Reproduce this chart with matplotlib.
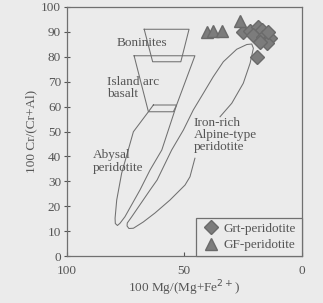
"""Cr# vs Mg# spinel discrimination diagram."""

import matplotlib.pyplot as plt

plt.rcParams["font.family"] = ["Liberation Serif", "DejaVu Serif"]

# Grt-peridotite samples (Mg#, Cr#)
grt_mg = [24.8, 21.9, 18.4, 17.0, 20.5, 16.3, 13.4, 14.8, 17.7, 14.2, 19.1]
grt_cr = [89.9, 90.3, 91.9, 90.6, 88.6, 87.9, 87.3, 85.3, 85.9, 89.8, 79.9]

# GF-peridotite samples
gf_mg = [40.2, 37.9, 34.0, 26.0]
gf_cr = [90.0, 90.2, 90.1, 94.3]

# field outlines
boninite_mg = [67.0, 47.9, 51.4, 63.4, 67.0]
boninite_cr = [90.9, 90.9, 77.9, 77.9, 90.9]

arc_abyssal_mg = [71.3, 45.4, 53.2, 56.7, 59.5, 64.5, 68.8, 75.2, 77.3, 78.4,
                  79.3, 79.4, 78.7, 76.6, 73.8, 71.6, 65.2, 71.3]
arc_abyssal_cr = [80.3, 80.3, 60.6, 50.6, 42.6, 34.6, 26.6, 15.9, 13.3, 12.4,
                  13.2, 15.3, 22.6, 33.3, 42.6, 49.9, 57.9, 80.3]

box_mg = [63.1, 53.2, 54.6, 65.2, 63.1]
box_cr = [60.6, 60.6, 57.9, 57.9, 60.6]

iron_mg = [45.4, 47.5, 49.6, 56.0, 62.4, 67.4, 71.6, 73.5, 74.3, 74.2, 72.3,
           64.5, 61.5, 55.3, 50.3, 46.1, 41.8, 37.6, 33.3, 27.6, 23.3, 21.2,
           20.5, 21.9, 24.8, 29.7, 34.7]
iron_cr = [39.3, 31.9, 28.6, 22.6, 17.4, 13.8, 11.3, 11.2, 12.2, 13.4, 15.9,
           26.6, 30.6, 42.6, 50.6, 58.6, 65.3, 71.9, 77.9, 82.9, 84.8, 85.0,
           83.3, 77.3, 69.3, 61.3, 55.9]

BG = "#ebebeb"
LINE = "#707070"
TEXT = "#555555"

fig = plt.figure(figsize=(3.23, 3.03), dpi=100, facecolor=BG)
ax = fig.add_axes([0.2065, 0.1535, 0.727, 0.825], facecolor=BG)

for xs, ys in [(boninite_mg, boninite_cr), (arc_abyssal_mg, arc_abyssal_cr),
               (box_mg, box_cr), (iron_mg, iron_cr)]:
    ax.plot(xs, ys, color=LINE, linewidth=0.75)

ax.plot(grt_mg, grt_cr, "D", color="#7c7c7c", markeredgecolor="#6a6a6a",
        markersize=7, linestyle="none", label="Grt-peridotite")
ax.plot(gf_mg, gf_cr, "^", color="#7c7c7c", markeredgecolor="#6a6a6a",
        markersize=8, linestyle="none", label="GF-peridotite")

fs = 9.5
ax.text(78.7, 85.6, "Boninites", fontsize=fs, color=TEXT, va="center")
ax.text(83.0, 67.3, "Island arc\nbasalt", fontsize=fs, color=TEXT,
        va="center", linespacing=1.05)
ax.text(88.7, 38.0, "Abysal\nperidotite", fontsize=fs, color=TEXT,
        va="center", linespacing=1.05)
ax.text(45.8, 48.6, "Iron-rich\nAlpine-type\nperidotite", fontsize=fs,
        color=TEXT, va="center", linespacing=1.05)

ax.set_xlim(100, 0)
ax.set_ylim(0, 100)
ax.set_xticks([100, 50, 0])
ax.set_yticks(range(0, 101, 10))
ax.tick_params(colors=TEXT, labelsize=9.5, length=3, width=0.8,
               direction="in")
ax.tick_params(axis="x", pad=6)
ax.tick_params(axis="y", direction="inout", length=4, pad=2)
for sp in ax.spines.values():
    sp.set_color(LINE)
    sp.set_linewidth(0.9)

ax.set_xlabel("100 Mg/(Mg+Fe$^{2+}$)", fontsize=9.5, color=TEXT, labelpad=1)
ax.set_ylabel("100 Cr/(Cr+Al)", fontsize=9.5, color=TEXT, labelpad=3)

leg = ax.legend(loc="lower right", fontsize=9.5, frameon=True, fancybox=False,
                borderaxespad=0, handletextpad=0.2, handlelength=1.5,
                borderpad=0.4, labelspacing=0.3, facecolor=BG,
                edgecolor=LINE, framealpha=1)
leg.get_frame().set_linewidth(0.9)
for t in leg.get_texts():
    t.set_color(TEXT)

fig.savefig("out.png", dpi=100, facecolor=BG)
